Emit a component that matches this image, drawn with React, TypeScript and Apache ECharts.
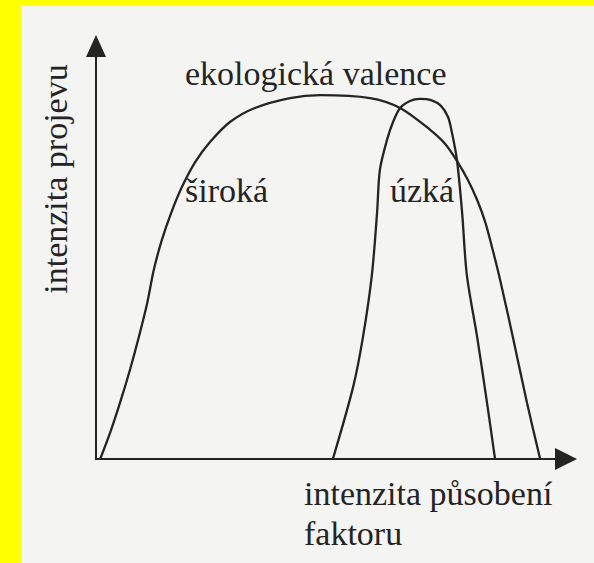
import React, { useEffect, useRef } from "react";
import * as echarts from "echarts";

// x: intenzita působení faktoru (0–100), y: intenzita projevu (0–100)
const wideX = [0.9, 3.2, 5.3, 7.2, 9.1, 10.9, 12.3, 14.0, 16.0, 18.3, 21.1, 24.3, 28.5, 33.8, 41.3, 47.7, 58.3, 64.7, 71.1, 74.3, 76.8, 79.1, 81.1, 82.8, 84.3, 86.0, 88.7, 91.7, 94.5];
const wideY = [0, 7.0, 14.3, 21.5, 29.5, 37.8, 45.8, 53.0, 59.6, 65.9, 71.9, 76.8, 81.6, 85.0, 87.4, 88.1, 87.4, 85.0, 79.7, 76.3, 72.2, 67.6, 62.7, 57.4, 51.1, 43.3, 29.5, 13.6, 0];

const narrowX = [50.4, 54.7, 56.8, 58.7, 59.8, 60.4, 61.9, 63.2, 64.7, 66.8, 68.9, 71.3, 73.4, 74.9, 75.7, 76.8, 77.9, 78.9, 81.1, 83.2, 84.9];
const narrowY = [0, 17.4, 29.5, 44.6, 59.6, 70.0, 77.2, 81.6, 85.0, 86.7, 87.2, 86.9, 85.5, 82.8, 79.2, 72.4, 59.6, 44.6, 29.5, 13.6, 0];

const titleText = "ekologická valence";
const wideLabel = "široká";
const narrowLabel = "úzká";
const yAxisTitle = "intenzita projevu";
const xAxisTitle1 = "intenzita působení";
const xAxisTitle2 = "faktoru";

const INK = "#242424";
const FONT = "Liberation Serif";

export default function App() {
  const ref = useRef<HTMLDivElement>(null);
  useEffect(() => {
    if (!ref.current) return;
    const chart = echarts.init(ref.current, null, { renderer: "svg" });
    const txt = (text: string, x: number, y: number, extra: any = {}) => ({
      type: "text",
      x,
      y,
      silent: true,
      ...extra,
      style: {
        text,
        fill: INK,
        fontSize: 34,
        fontFamily: FONT,
        align: extra.align || "left",
        verticalAlign: "middle",
      },
    });
    chart.setOption({
      animation: false,
      backgroundColor: "#f4f4f2",
      grid: { left: 96, right: 28, top: 46, bottom: 104, containLabel: false },
      xAxis: {
        type: "value",
        min: 0,
        max: 100,
        axisLine: {
          show: true,
          onZero: false,
          symbol: ["none", "triangle"],
          symbolSize: [22, 22],
          lineStyle: { color: INK, width: 2 },
        },
        axisTick: { show: false },
        axisLabel: { show: false },
        splitLine: { show: false },
      },
      yAxis: {
        type: "value",
        min: 0,
        max: 100,
        axisLine: {
          show: true,
          onZero: false,
          symbol: ["none", "triangle"],
          symbolSize: [20, 22],
          lineStyle: { color: INK, width: 2 },
        },
        axisTick: { show: false },
        axisLabel: { show: false },
        splitLine: { show: false },
      },
      series: [
        {
          type: "line",
          name: wideLabel,
          data: wideX.map((x, i) => [x, wideY[i]]),
          smooth: 0.3,
          showSymbol: false,
          clip: false,
          lineStyle: { color: INK, width: 2.3 },
        },
        {
          type: "line",
          name: narrowLabel,
          data: narrowX.map((x, i) => [x, narrowY[i]]),
          smooth: 0.3,
          showSymbol: false,
          clip: false,
          lineStyle: { color: INK, width: 2.3 },
        },
      ],
      graphic: [
        { type: "rect", shape: { x: 0, y: 0, width: 594, height: 6 }, style: { fill: "#ffff00" }, silent: true },
        { type: "rect", shape: { x: 0, y: 0, width: 21, height: 563 }, style: { fill: "#ffff00" }, silent: true },
        txt(titleText, 185, 73.5),
        txt(wideLabel, 185, 190.5),
        txt(narrowLabel, 390, 190.5),
        txt(xAxisTitle1, 304, 493.5),
        txt(xAxisTitle2, 304, 533.5),
        txt(yAxisTitle, 55.5, 179, { rotation: Math.PI / 2, align: "center" }),
      ],
    });
    return () => chart.dispose();
  }, []);
  return (
    <div
      ref={ref}
      style={{ position: "fixed", left: 0, top: 0, width: 594, height: 563 }}
    />
  );
}
